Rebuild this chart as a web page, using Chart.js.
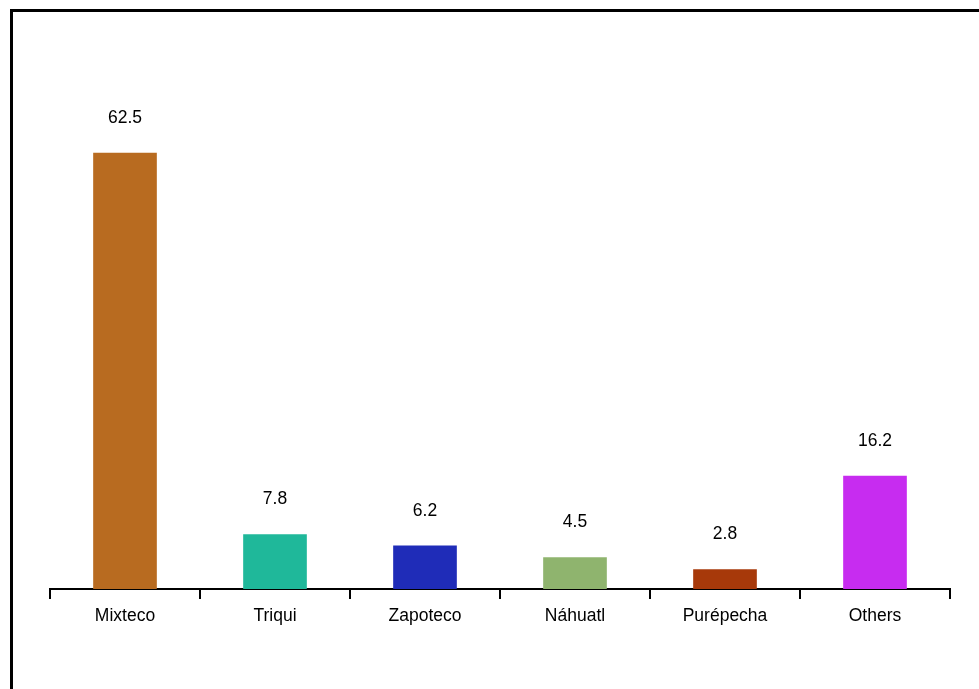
<!DOCTYPE html>
<html>
<head>
    <meta charset="utf-8">
    <title>Languages</title>
    <script src="https://cdn.jsdelivr.net/npm/chart.js@4.4.0/dist/chart.umd.min.js"></script>
    <style>
        html, body { margin: 0; padding: 0; overflow: hidden; background: #fff; }
        #wrap { position: absolute; left: 0; top: 0; width: 979px; height: 689px; }
        #frame {
            position: absolute; left: 10px; top: 9px; width: 1200px; height: 1000px;
            border-left: 3px solid #000; border-top: 3px solid #000;
        }
    </style>
</head>
<body>
    <div id="wrap">
        <div id="frame"></div>
        <canvas id="myChart" width="979" height="689"></canvas>
    </div>

    <script>
        // Data
        const languages = ['Mixteco', 'Triqui', 'Zapoteco', 'Náhuatl', 'Purépecha', 'Others'];
        const shares = [62.5, 7.8, 6.2, 4.5, 2.8, 16.2];
        const barColors = ['#b86b20', '#1fb89a', '#1f2cb8', '#8fb46e', '#a7390a', '#c72cf0'];

        // Value labels above each bar
        const valueLabels = {
            id: 'valueLabels',
            afterDatasetsDraw(chart) {
                const ctx = chart.ctx;
                const meta = chart.getDatasetMeta(0);
                ctx.save();
                ctx.font = '17.5px "Liberation Sans", Arial, sans-serif';
                ctx.fillStyle = '#000';
                ctx.textAlign = 'center';
                ctx.textBaseline = 'middle';
                meta.data.forEach((bar, i) => {
                    ctx.fillText(String(shares[i]), bar.x, bar.y - 35);
                });
                ctx.restore();
            }
        };

        const config = {
            type: 'bar',
            data: {
                labels: languages,
                datasets: [{
                    data: shares,
                    backgroundColor: barColors,
                    barThickness: 63
                }]
            },
            options: {
                responsive: false,
                animation: false,
                layout: { padding: { left: 50, right: 29, top: 31, bottom: 0 } },
                plugins: {
                    legend: { display: false },
                    tooltip: { enabled: false }
                },
                scales: {
                    x: {
                        offset: true,
                        grid: {
                            offset: true,
                            drawOnChartArea: false,
                            drawTicks: true,
                            tickLength: 10,
                            color: '#000',
                            lineWidth: 2
                        },
                        border: { display: true, color: '#000', width: 2 },
                        ticks: {
                            color: '#000',
                            padding: 7,
                            maxRotation: 0,
                            font: { family: '"Liberation Sans", Arial, sans-serif', size: 17.5 }
                        },
                        afterFit(scale) { scale.height = 100; }
                    },
                    y: {
                        display: false,
                        min: 0,
                        max: 80
                    }
                }
            },
            plugins: [valueLabels]
        };

        new Chart(document.getElementById('myChart'), config);
    </script>
</body>
</html>
